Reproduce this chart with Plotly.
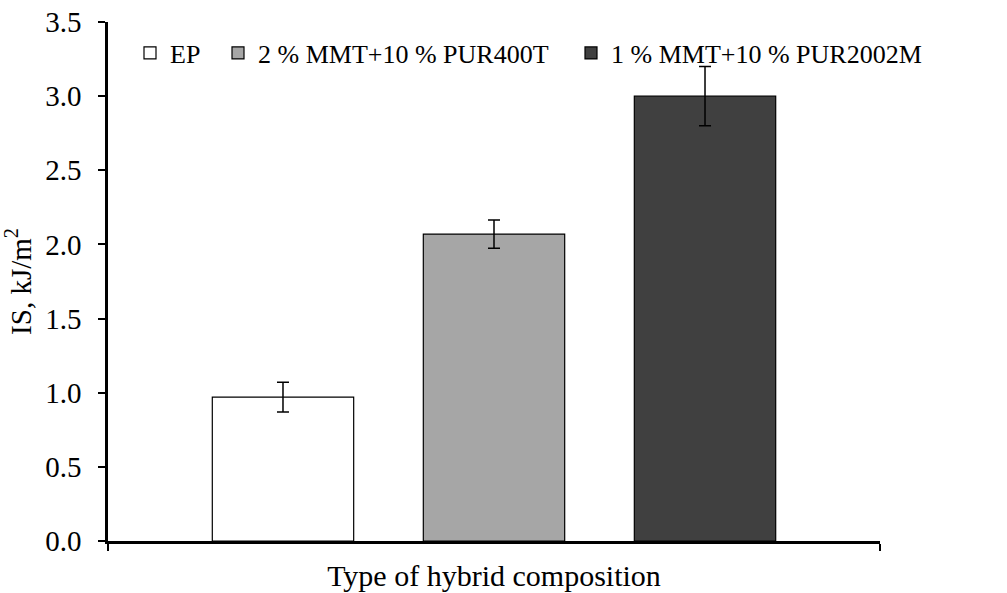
import plotly.graph_objects as go

series = ["EP", "2 % MMT+10 % PUR400T", "1 % MMT+10 % PUR2002M"]
values = [0.97, 2.07, 3.00]
errors = [0.10, 0.095, 0.20]
colors = ["#FFFFFF", "#A6A6A6", "#404040"]
y_ticks = [0.0, 0.5, 1.0, 1.5, 2.0, 2.5, 3.0, 3.5]

FONT = "Liberation Serif, Times New Roman, serif"

L, R, T, B = 108, 127, 22, 52
W, H = 1007, 593
PW, PH = W - L - R, H - T - B

legend_names = ["legend", "legend2", "legend3"]
legend_text_px = [170, 258, 611]

fig = go.Figure()
for name, v, e, c, lg in zip(series, values, errors, colors, legend_names):
    fig.add_trace(go.Bar(
        x=[0], y=[v], name=name, legend=lg,
        marker=dict(color=c, line=dict(color="#000000", width=1.2)),
        error_y=dict(type="data", array=[e], visible=True, color="#000000",
                     thickness=1.5, width=6),
    ))

legend_layouts = {}
for lg, px in zip(legend_names, legend_text_px):
    legend_layouts[lg] = dict(
        x=(px - 40 - L) / PW, y=(H - B - 53) / PH,
        xanchor="left", yanchor="middle", orientation="h",
        bgcolor="rgba(0,0,0,0)", font=dict(family=FONT, size=26),
        itemwidth=30,
    )

fig.update_layout(
    width=W, height=H,
    margin=dict(l=L, r=R, t=T, b=B),
    paper_bgcolor="white", plot_bgcolor="white",
    barmode="group", bargap=0.18, bargroupgap=0.33,
    font=dict(family=FONT, size=28, color="#000000"),
    showlegend=True,
    **legend_layouts,
    xaxis=dict(range=[-0.5, 0.5], tickvals=[-0.5, 0.5], ticktext=["", ""],
               ticks="outside", ticklen=7, tickwidth=2, tickcolor="#000000",
               showline=True, linecolor="#000000", linewidth=2.5,
               showgrid=False, zeroline=False, automargin=False,
               title=dict(text="Type of hybrid composition", standoff=10,
                          font=dict(family=FONT, size=30))),
    yaxis=dict(range=[0, 3.5], tickvals=y_ticks,
               ticktext=[f"{t:.1f}" for t in y_ticks],
               ticks="outside", ticklen=7, tickwidth=2, tickcolor="#000000",
               ticklabelstandoff=11,
               tickfont=dict(family=FONT, size=29),
               showline=True, linecolor="#000000", linewidth=2.5,
               showgrid=False, zeroline=False, automargin=False,
               title=dict(text="IS, kJ/m<sup>2</sup>", standoff=6,
                          font=dict(family=FONT, size=29))),
)

fig.write_html("out.html")
